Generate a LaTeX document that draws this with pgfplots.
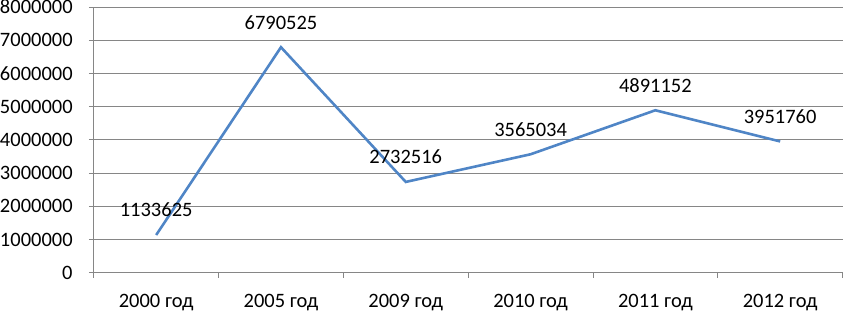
\documentclass[border=0pt]{standalone}
\usepackage{fontspec}
\setmainfont{Carlito}
\usepackage{pgfplots}
\pgfplotsset{compat=1.18}
\definecolor{lineblue}{HTML}{4F85C6}
\definecolor{gridgray}{HTML}{868686}
\begin{document}
\begin{tikzpicture}[font=\fontsize{20.5bp}{24bp}\selectfont]
\begin{axis}[
  scale only axis,
  width=750bp, height=266bp,
  xmin=-0.5, xmax=5.5, ymin=0, ymax=8000000,
  axis lines=left,
  axis line style={-, draw=gridgray, line width=0.9bp},
  xtick={0,1,2,3,4,5},
  xticklabels={2000 год,2005 год,2009 год,2010 год,2011 год,2012 год},
  minor xtick={-0.5,0.5,1.5,2.5,3.5,4.5,5.5},
  major x tick style={draw=none},
  minor x tick style={draw=gridgray, line width=0.9bp},
  minor tick length=5bp,
  ytick={0,1000000,...,8000000},
  major tick length=5bp,
  y tick style={draw=gridgray, line width=0.9bp},
  tick align=outside,
  ymajorgrids,
  grid style={draw=gridgray, line width=0.9bp},
  scaled y ticks=false,
  /pgf/number format/.cd, fixed, 1000 sep={}, assume math mode=true,
  /pgfplots/.cd,
  yticklabel style={anchor=east, inner sep=0pt, xshift=-16bp},
  xticklabel style={anchor=base, inner sep=0pt, yshift=-30bp},
  point meta=explicit symbolic,
  nodes near coords,
  every node near coord/.append style={anchor=center, inner sep=0pt, yshift=25bp, text=black},
  clip=false,
]
\addplot[color=lineblue, line width=2.6bp, mark=none] coordinates {
  (0,1133625) [1133625]
  (1,6790525) [6790525]
  (2,2732516) [2732516]
  (3,3565034) [3565034]
  (4,4891152) [4891152]
  (5,3951760) [3951760]
};
\end{axis}
\useasboundingbox (-93bp,-37bp) rectangle (750bp,273bp);
\end{tikzpicture}
\end{document}
